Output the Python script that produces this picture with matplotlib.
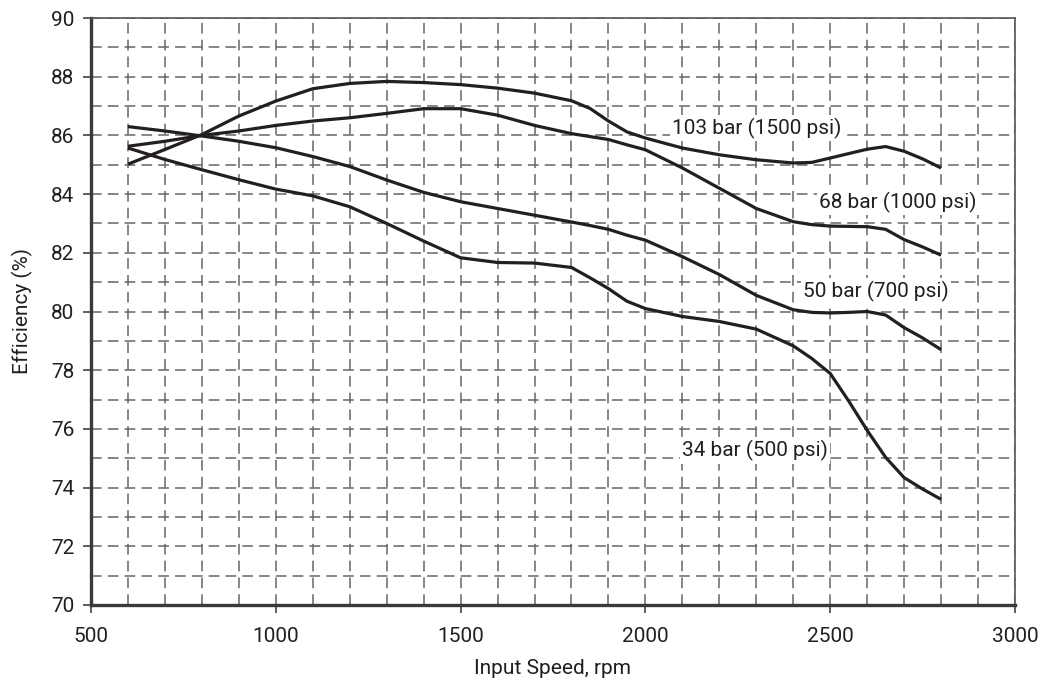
import matplotlib
matplotlib.use("Agg")
import matplotlib.pyplot as plt
from matplotlib.ticker import MultipleLocator

plt.rcParams['font.family'] = ['Roboto', 'DejaVu Sans']

speed = [600, 700, 800, 900, 1000, 1100, 1200, 1300, 1400, 1500, 1600, 1700, 1800,
         1850, 1900, 1950, 2000, 2100, 2200, 2300, 2400, 2450, 2500, 2550, 2600,
         2650, 2700, 2750, 2800]

eff_103 = [85.02, 85.52, 86.03, 86.66, 87.17, 87.59, 87.77, 87.84, 87.80, 87.73, 87.61,
           87.44, 87.18, 86.92, 86.49, 86.12, 85.91, 85.57, 85.34, 85.17, 85.06, 85.08,
           85.23, 85.38, 85.53, 85.62, 85.46, 85.20, 84.89]
eff_68 = [85.63, 85.80, 86.00, 86.15, 86.34, 86.49, 86.60, 86.75, 86.91, 86.91, 86.69,
          86.34, 86.06, 85.96, 85.86, 85.68, 85.51, 84.89, 84.20, 83.51, 83.06, 82.96,
          82.91, 82.90, 82.89, 82.80, 82.45, 82.20, 81.92]
eff_50 = [86.30, 86.15, 85.98, 85.80, 85.58, 85.28, 84.94, 84.48, 84.06, 83.74, 83.51,
          83.28, 83.05, 82.93, 82.80, 82.60, 82.43, 81.87, 81.26, 80.55, 80.06, 79.97,
          79.95, 79.97, 80.00, 79.88, 79.45, 79.10, 78.70]
eff_34 = [85.57, 85.18, 84.83, 84.49, 84.17, 83.94, 83.57, 83.00, 82.40, 81.83, 81.67,
          81.65, 81.50, 81.15, 80.78, 80.35, 80.10, 79.83, 79.66, 79.40, 78.83, 78.40,
          77.89, 76.95, 75.95, 75.03, 74.34, 73.95, 73.60]

series = [eff_103, eff_68, eff_50, eff_34]
labels = ["103 bar (1500 psi)", "68 bar (1000 psi)", "50 bar (700 psi)", "34 bar (500 psi)"]
label_pos = [(2300, 86.25), (2684, 83.73), (2624, 80.7), (2297, 75.25)]

x_ticks = [500, 1000, 1500, 2000, 2500, 3000]
y_ticks = [70, 72, 74, 76, 78, 80, 82, 84, 86, 88, 90]

ink = '#231f20'
fig = plt.figure(figsize=(10.47, 6.86), dpi=100)
ax = fig.add_axes([91/1047, 1 - 605/686, 924/1047, 587/686])

ax.set_xlim(500, 3000)
ax.set_ylim(70, 90)
ax.set_xticks(x_ticks)
ax.set_yticks(y_ticks)
ax.xaxis.set_minor_locator(MultipleLocator(100))
ax.yaxis.set_minor_locator(MultipleLocator(1))

gridkw = dict(color='#666666', linewidth=1.1, linestyle=(0, (7, 4)))
ax.grid(True, which='both', axis='both', **gridkw)
ax.set_axisbelow(True)

for y in series:
    ax.plot(speed, y, color=ink, linewidth=2.3, solid_capstyle='butt',
            solid_joinstyle='round', zorder=3)

for txt, (lx, ly) in zip(labels, label_pos):
    ax.text(lx, ly, txt, ha='center', va='center', fontsize=15, color=ink, zorder=4,
            bbox=dict(facecolor='white', edgecolor='none', pad=1.5))

ax.tick_params(axis='both', which='major', direction='out', length=6, width=1.2,
               color='#444444', labelsize=15, labelcolor=ink)
ax.tick_params(axis='both', which='minor', length=0)
ax.tick_params(axis='y', pad=6)
ax.tick_params(axis='x', pad=10)

for side in ['left', 'bottom']:
    ax.spines[side].set_linewidth(2.4)
    ax.spines[side].set_color('#3a3a3a')
for side in ['right', 'top']:
    ax.spines[side].set_linewidth(1.2)
    ax.spines[side].set_color('#555555')

ax.set_xlabel("Input Speed, rpm", fontsize=15, color=ink, labelpad=9)
ax.set_ylabel("Efficiency (%)", fontsize=15, color=ink, labelpad=13)

fig.savefig("out.png", dpi=100, facecolor='white')
